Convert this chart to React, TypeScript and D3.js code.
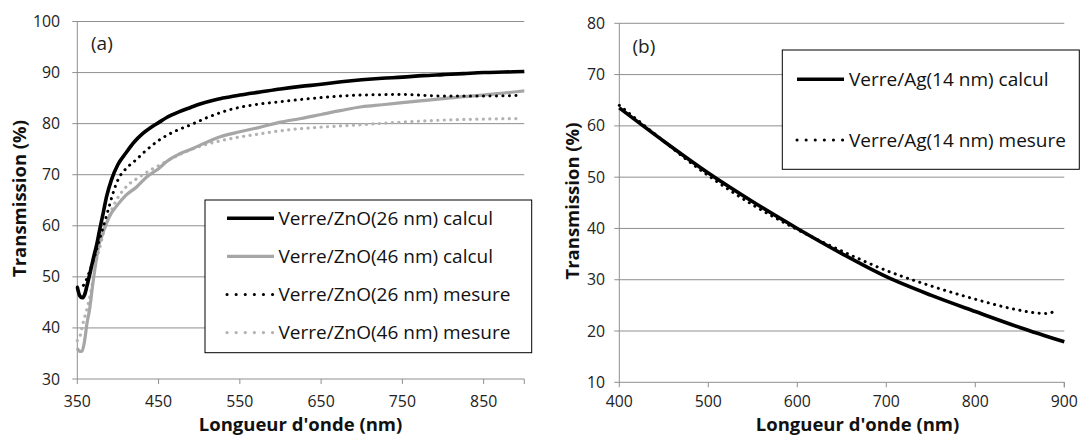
import React from "react";
import * as d3 from "d3";

// ---- Data (a) ----
const wlA26Calc = [350, 353, 356, 359, 362, 366, 370, 374, 378, 382, 386, 392, 400, 410, 420, 430, 440, 450, 460, 475, 490, 500, 520, 540, 550, 575, 600, 625, 650, 675, 700, 725, 750, 775, 800, 825, 850, 875, 900];
const tA26Calc = [48.0, 46.3, 45.9, 46.5, 48.3, 51.0, 53.8, 56.4, 59.6, 62.6, 65.7, 69.0, 72.0, 74.3, 76.4, 78.0, 79.2, 80.2, 81.2, 82.3, 83.2, 83.8, 84.7, 85.3, 85.6, 86.2, 86.8, 87.3, 87.7, 88.2, 88.6, 88.9, 89.1, 89.4, 89.6, 89.8, 90.0, 90.1, 90.2];

const wlA46Calc = [350, 353, 356, 359, 362, 365, 369, 373, 377, 380, 386, 392, 398, 410, 423, 435, 451, 460, 475, 490, 500, 525, 550, 575, 600, 625, 650, 675, 700, 725, 750, 775, 800, 825, 850, 875, 900];
const tA46Calc = [36.0, 35.4, 35.5, 37.5, 41.0, 43.5, 48.5, 53.0, 56.5, 57.9, 60.5, 62.5, 63.8, 66.0, 67.6, 69.5, 71.3, 72.6, 74.0, 75.0, 75.7, 77.4, 78.4, 79.3, 80.3, 81.0, 81.8, 82.6, 83.3, 83.7, 84.1, 84.5, 84.9, 85.3, 85.6, 86.0, 86.4];

const wlA26Mes = [350, 356.5, 361, 365.6, 371.7, 377, 382, 388, 394, 400, 410, 420, 435, 450, 470, 490, 510, 537, 560, 600, 650, 700, 750, 800, 850, 890];
const tA26Mes = [48.0, 48.2, 49.4, 51.3, 54.2, 57.2, 59.8, 63.1, 66.4, 69.0, 71.2, 72.6, 74.8, 76.7, 78.5, 79.8, 81.2, 82.7, 83.5, 84.3, 85.1, 85.6, 85.7, 85.4, 85.4, 85.5];

const wlA46Mes = [350, 352.5, 357, 361.5, 365.6, 370, 374, 378, 382, 386, 392, 398, 410, 427, 440, 455, 475, 500, 525, 550, 575, 600, 650, 700, 750, 800, 850, 890];
const tA46Mes = [37.5, 38.0, 40.9, 43.5, 46.2, 50.0, 53.5, 56.0, 58.5, 60.5, 63.0, 65.0, 67.6, 69.6, 70.9, 72.2, 73.9, 75.5, 76.6, 77.4, 78.0, 78.6, 79.3, 79.8, 80.3, 80.7, 80.9, 81.0];

const xTicksA = [350, 450, 550, 650, 750, 850];
const yTicksA = [30, 40, 50, 60, 70, 80, 90, 100];
const legendA = [
  "Verre/ZnO(26 nm) calcul",
  "Verre/ZnO(46 nm) calcul",
  "Verre/ZnO(26 nm) mesure",
  "Verre/ZnO(46 nm) mesure",
];

// ---- Data (b) ----
const wlBCalc = [400, 450, 500, 550, 600, 650, 700, 750, 800, 850, 900];
const tBCalc = [63.5, 57.0, 50.8, 45.2, 40.0, 35.1, 30.6, 27.0, 23.8, 20.7, 17.9];
const wlBMes = [400, 425, 450, 475, 500, 550, 600, 650, 700, 750, 800, 840, 870, 880, 890];
const tBMes = [64.0, 60.5, 57.0, 53.5, 50.3, 44.6, 39.8, 35.6, 31.8, 28.8, 26.2, 24.4, 23.5, 23.4, 23.9];

const xTicksB = [400, 500, 600, 700, 800, 900];
const yTicksB = [10, 20, 30, 40, 50, 60, 70, 80];
const legendB = ["Verre/Ag(14 nm) calcul", "Verre/Ag(14 nm) mesure"];

const FONT = "'Open Sans', sans-serif";
const GRID = "#8f8f8f";
const BLACK = "#000";
const GRAY = "#a6a6a6";
const GRAY_DOT = "#b3b3b3";
const DOT = "0.1 6.4";
const DOT_LEG = "0.1 9";
const TICK_FS = 15.8;
const LEG_FS = 19;
const TITLE_FS = 18.5;

type Pt = [number, number];
const zip = (a: number[], b: number[]): Pt[] => a.map((v, i) => [v, b[i]]);

function Panel(props: {
  x: d3.ScaleLinear<number, number>;
  y: d3.ScaleLinear<number, number>;
  xTicks: number[];
  yTicks: number[];
  xEnd: number;
  yLabelX: number;
  titleX: number;
  yTitleX: number;
  yTitleY: number;
  tag: string;
  tagX: number;
  tagY: number;
  series: { data: Pt[]; color: string; width: number; dash?: string }[];
}) {
  const { x, y, xTicks, yTicks, xEnd } = props;
  const line = d3
    .line<Pt>()
    .x((d) => x(d[0]))
    .y((d) => y(d[1]))
    .curve(d3.curveMonotoneX);
  const [x0, x1] = x.range();
  const [yb, yt] = y.range();
  return (
    <g>
      {yTicks.map((t) => (
        <g key={"g" + t}>
          <line x1={x0 - 5} x2={x1} y1={y(t)} y2={y(t)} stroke={GRID} strokeWidth={1} />
          <text x={props.yLabelX} y={y(t)} dy="0.35em" textAnchor="end" fontFamily={FONT} fontSize={TICK_FS} fill="#222">
            {t}
          </text>
        </g>
      ))}
      <line x1={x0} x2={x0} y1={yb} y2={yt} stroke={GRID} strokeWidth={1} />
      {[...xTicks, xEnd].map((t) => (
        <line key={"xt" + t} x1={x(t)} x2={x(t)} y1={yb} y2={yb + 5} stroke={GRID} strokeWidth={1} />
      ))}
      {xTicks.map((t) => (
        <text key={"xl" + t} x={x(t)} y={401.5} dy="0.35em" textAnchor="middle" fontFamily={FONT} fontSize={TICK_FS} fill="#222">
          {t}
        </text>
      ))}
      {props.series.map((s, i) => (
        <path
          key={"s" + i}
          d={line(s.data) || ""}
          fill="none"
          stroke={s.color}
          strokeWidth={s.width}
          strokeDasharray={s.dash}
          strokeLinecap={s.dash ? "round" : "butt"}
          strokeLinejoin="round"
        />
      ))}
      <text x={props.tagX} y={props.tagY} dy="0.35em" fontFamily={FONT} fontSize={19} fill="#222">
        {props.tag}
      </text>
      <text x={props.titleX} y={430.5} textAnchor="middle" fontFamily={FONT} fontSize={TITLE_FS} fontWeight="bold" fill="#111">
        Longueur d'onde (nm)
      </text>
      <text
        transform={`translate(${props.yTitleX},${props.yTitleY}) rotate(-90)`}
        dy="0.35em"
        textAnchor="middle"
        fontFamily={FONT}
        fontSize={TITLE_FS}
        fontWeight="bold"
        fill="#111"
      >
        Transmission (%)
      </text>
    </g>
  );
}

export default function App() {
  const xA = d3.scaleLinear().domain([350, 900]).range([77.3, 524.3]);
  const yA = d3.scaleLinear().domain([30, 100]).range([379, 21.5]);
  const xB = d3.scaleLinear().domain([400, 900]).range([619.3, 1064.3]);
  const yB = d3.scaleLinear().domain([10, 80]).range([382.3, 23.3]);

  const seriesA = [
    { data: zip(wlA46Mes, tA46Mes), color: GRAY_DOT, width: 3.2, dash: DOT },
    { data: zip(wlA46Calc, tA46Calc), color: GRAY, width: 3.2 },
    { data: zip(wlA26Mes, tA26Mes), color: BLACK, width: 3, dash: DOT },
    { data: zip(wlA26Calc, tA26Calc), color: BLACK, width: 3.6 },
  ];
  const legStylesA = [
    { color: BLACK, width: 3.6 },
    { color: GRAY, width: 3.2 },
    { color: BLACK, width: 3, dash: DOT_LEG },
    { color: GRAY_DOT, width: 3.2, dash: DOT_LEG },
  ];
  const seriesB = [
    { data: zip(wlBMes, tBMes), color: BLACK, width: 3, dash: DOT },
    { data: zip(wlBCalc, tBCalc), color: BLACK, width: 3.6 },
  ];
  const legStylesB = [
    { color: BLACK, width: 3.6 },
    { color: BLACK, width: 3, dash: DOT_LEG },
  ];

  return (
    <div style={{ position: "absolute", left: 0, top: 0 }}>
      <svg width={1082} height={436} style={{ display: "block", background: "#fff" }}>
        <rect width={1082} height={436} fill="#fff" />
        <Panel
          x={xA}
          y={yA}
          xTicks={xTicksA}
          yTicks={yTicksA}
          xEnd={900}
          yLabelX={60}
          titleX={300.5}
          yTitleX={20}
          yTitleY={198.5}
          tag="(a)"
          tagX={91}
          tagY={43}
          series={seriesA}
        />
        <Panel
          x={xB}
          y={yB}
          xTicks={xTicksB}
          yTicks={yTicksB}
          xEnd={900}
          yLabelX={605}
          titleX={857.5}
          yTitleX={573}
          yTitleY={201}
          tag="(b)"
          tagX={632.5}
          tagY={46}
          series={seriesB}
        />
        {/* Legend (a) */}
        <g>
          <rect x={205} y={200} width={326.7} height={152.7} fill="#fff" stroke="#000" strokeWidth={1} />
          {legendA.map((name, i) => {
            const yy = 218.3 + i * 38.1;
            const st = legStylesA[i];
            return (
              <g key={name}>
                <line x1={227} x2={274} y1={yy} y2={yy} stroke={st.color} strokeWidth={st.width} strokeDasharray={st.dash} strokeLinecap={st.dash ? "round" : "butt"} />
                <text x={278.5} y={yy} dy="0.35em" fontFamily={FONT} fontSize={LEG_FS} fill="#111">
                  {name}
                </text>
              </g>
            );
          })}
        </g>
        {/* Legend (b) */}
        <g>
          <rect x={782.3} y={50} width={297} height={119.3} fill="#fff" stroke="#000" strokeWidth={1} />
          {legendB.map((name, i) => {
            const yy = 79.3 + i * 60.7;
            const st = legStylesB[i];
            return (
              <g key={name}>
                <line x1={797} x2={844} y1={yy} y2={yy} stroke={st.color} strokeWidth={st.width} strokeDasharray={st.dash} strokeLinecap={st.dash ? "round" : "butt"} />
                <text x={849} y={yy} dy="0.35em" fontFamily={FONT} fontSize={LEG_FS} fill="#111">
                  {name}
                </text>
              </g>
            );
          })}
        </g>
      </svg>
    </div>
  );
}
